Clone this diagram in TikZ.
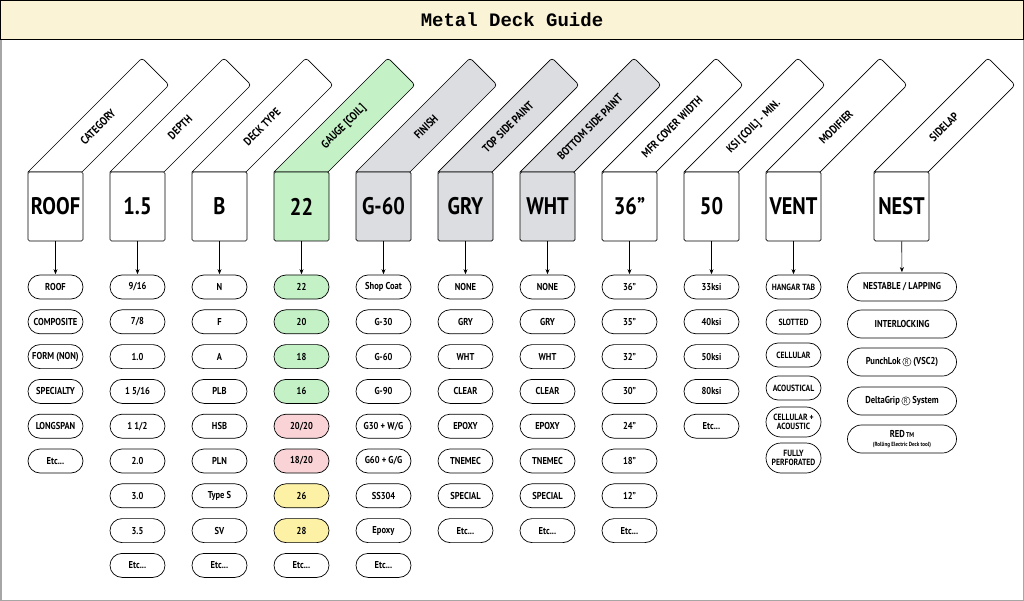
\documentclass[tikz,border=0pt]{standalone}
\usepackage{fontspec}
\setmainfont{PT Sans}[FakeStretch=0.85]
\newfontfamily\monof{Liberation Mono}
\usetikzlibrary{arrows.meta}
\definecolor{cream}{HTML}{FBF3D6}
\definecolor{ggreen}{HTML}{C4F2C6}
\definecolor{gred}{HTML}{F9D3D6}
\definecolor{gyel}{HTML}{FDF1A6}
\definecolor{ggray}{HTML}{DCDDE1}
\newcommand\Rc{\,\tikz[baseline=-2.6pt,sharp corners]{\draw[line width=0.4pt] (0,0) circle (4.2pt); \node[minimum width=0pt,minimum height=0pt,draw=none,fill=none,inner sep=0pt,font=\fontsize{7}{7}\selectfont\mdseries] at (0,0) {R};}}
\newcommand\etcx{Etc...}
\newcommand\colhead[5]{%
  \draw[fill=#5,line width=0.7pt] (#1,-172) [rounded corners=3pt] -- ++(114,114) -- ++(27,-27) [sharp corners] -- (#1+54,-172) -- cycle;
  \node[rotate=45,font=\bfseries\fontsize{11.5}{13}\selectfont] at (#1+70,-127) {#3};
  \node[draw,fill=#5,line width=0.7pt,rounded corners=1.5pt,minimum width=55pt,minimum height=69pt,inner sep=0pt,font=\bfseries\fontsize{24}{28}\selectfont] (#2) at (#1+27.5,-206.5) {#4};}
\newcommand\colitems[3]{%
  \foreach \t [count=\i] in {#3} \node[pill] (#2-\i) at (#1+27.5,-287-34.8*\i+34.8) {\t};
  \draw[arr] (#2) -- (#2-1);}
\tikzset{
  pill/.style={draw,line width=0.7pt,rounded corners=12pt,minimum width=55pt,minimum height=24pt,inner sep=1pt,align=center,font=\bfseries\fontsize{10}{10.5}\selectfont},
  arr/.style={-{Stealth[length=5pt,width=4pt]},line width=0.6pt,shorten >=0.5pt}}
\begin{document}
\begin{tikzpicture}[x=1pt,y=1pt]
\useasboundingbox (0,0) rectangle (1024,-601);
\draw[gray!70,line width=1.5pt] (0.75,-0.75) rectangle (1023.25,-600.25);
\draw[fill=cream,line width=1pt] (0.75,-0.75) rectangle (1023.25,-40);
\node[font=\monof\bfseries\fontsize{19}{22}\selectfont] (title) at (512,-20) {Metal Deck Guide};
\colhead{28}{c1}{CATEGORY}{ROOF}{white}
\colhead{110}{c2}{DEPTH}{1.5}{white}
\colhead{192}{c3}{DECK TYPE}{B}{white}
\colhead{274}{c4}{GAUGE [COIL]}{22}{ggreen}
\colhead{356}{c5}{FINISH}{G-60}{ggray}
\colhead{438}{c6}{TOP SIDE PAINT}{GRY}{ggray}
\colhead{520}{c7}{BOTTOM SIDE PAINT}{WHT}{ggray}
\colhead{602}{c8}{MFR COVER WIDTH}{36"}{white}
\colhead{684}{c9}{KSI [COIL] - MIN.}{50}{white}
\colhead{766}{c10}{MODIFIER}{VENT}{white}
\colhead{874}{c11}{SIDELAP}{NEST}{white}
\colitems{28}{c1}{ROOF,COMPOSITE,FORM (NON),SPECIALTY,LONGSPAN,\etcx}
\colitems{110}{c2}{9/16,7/8,1.0,1 5/16,1 1/2,2.0,3.0,3.5,\etcx}
\colitems{192}{c3}{N,F,A,PLB,HSB,PLN,Type S,SV,\etcx}
\foreach \t/\f [count=\i] in {22/ggreen,20/ggreen,18/ggreen,16/ggreen,20\slash20/gred,18\slash20/gred,26/gyel,28/gyel,\etcx/white}
  \node[pill,fill=\f] (c4-\i) at (301.5,-287-34.8*\i+34.8) {\t};
\draw[arr] (c4) -- (c4-1);
\colitems{356}{c5}{Shop Coat,G-30,G-60,G-90,G30 + W/G,G60 + G/G,SS304,Epoxy,\etcx}
\colitems{438}{c6}{NONE,GRY,WHT,CLEAR,EPOXY,TNEMEC,SPECIAL,\etcx}
\colitems{520}{c7}{NONE,GRY,WHT,CLEAR,EPOXY,TNEMEC,SPECIAL,\etcx}
\colitems{602}{c8}{36",35",32",30",24",18",12",\etcx}
\colitems{684}{c9}{33ksi,40ksi,50ksi,80ksi,\etcx}
\foreach \t/\y/\h [count=\i] in {HANGAR TAB/287/24,SLOTTED/322/24,CELLULAR/355/24,ACOUSTICAL/388/24,{CELLULAR +\\ACOUSTIC}/422/30,{FULLY\\PERFORATED}/458/30}
  \node[pill,font=\bfseries\fontsize{9}{9.5}\selectfont,minimum height=\h pt,rounded corners=\h/2 pt] (c10-\i) at (793.5,-\y) {\t};
\draw[arr] (c10) -- (c10-1);
\foreach \t/\y [count=\i] in {{NESTABLE \slash\ LAPPING}/287,INTERLOCKING/324,PunchLok\Rc\ (VSC2)/362,DeltaGrip\Rc\ System/401,{RED{\fontsize{7}{8}\selectfont\,TM}\\[-2pt]{\fontsize{6}{7}\selectfont(Rolling Electric Deck tool)}}/439}
  \node[pill,minimum width=109pt,minimum height=28pt,rounded corners=14pt] (c11-\i) at (902,-\y) {\t};
\draw[arr] (c11) -- (c11-1);
\end{tikzpicture}
\end{document}
